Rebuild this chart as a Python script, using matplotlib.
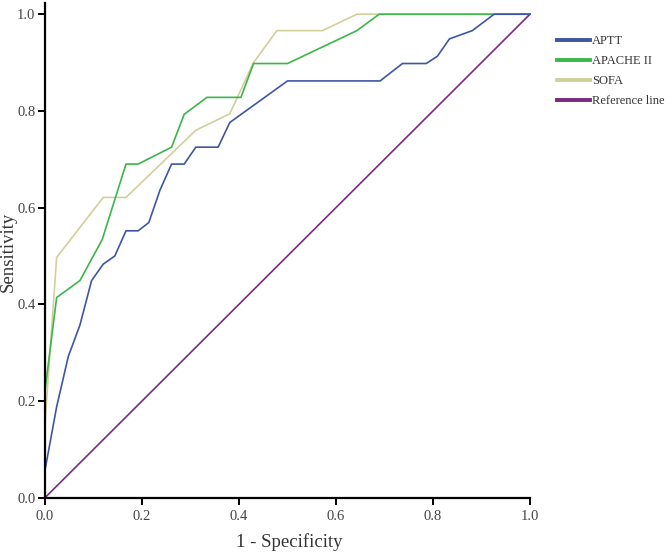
import matplotlib
matplotlib.use("Agg")
import matplotlib.pyplot as plt
from matplotlib.lines import Line2D

# ROC data
aptt_x = [0, 0, 0.024, 0.048, 0.072, 0.096, 0.12, 0.144, 0.167, 0.192, 0.214, 0.237, 0.261, 0.287,
          0.311, 0.357, 0.381, 0.5, 0.691, 0.737, 0.786, 0.809, 0.834, 0.881, 0.926, 1.0]
aptt_y = [0, 0.057, 0.188, 0.292, 0.357, 0.449, 0.483, 0.5, 0.552, 0.552, 0.569, 0.636, 0.69, 0.69,
          0.725, 0.725, 0.776, 0.862, 0.862, 0.898, 0.898, 0.913, 0.949, 0.966, 1.0, 1.0]

apache_x = [0, 0, 0.024, 0.072, 0.118, 0.167, 0.192, 0.261, 0.287, 0.334, 0.404, 0.43, 0.5, 0.643, 0.689, 1.0]
apache_y = [0, 0.222, 0.414, 0.449, 0.534, 0.69, 0.69, 0.725, 0.793, 0.828, 0.828, 0.898, 0.898, 0.966, 1.0, 1.0]

sofa_x = [0, 0, 0.024, 0.12, 0.167, 0.311, 0.381, 0.43, 0.478, 0.572, 0.643, 1.0]
sofa_y = [0, 0.154, 0.497, 0.621, 0.621, 0.76, 0.794, 0.9, 0.966, 0.966, 1.0, 1.0]

ref_x = [0, 1]
ref_y = [0, 1]

labels = ["APTT", "APACHE II", "SOFA", "Reference line"]
colors = ["#3D56A6", "#3CB54A", "#D3CF9B", "#7B2A82"]
ticks = [0.0, 0.2, 0.4, 0.6, 0.8, 1.0]
tick_labels = ["0.0", "0.2", "0.4", "0.6", "0.8", "1.0"]

plt.rcParams['font.family'] = ['Liberation Serif', 'DejaVu Serif']

fig = plt.figure(figsize=(6.68, 5.53), dpi=100)
ax = fig.add_axes([45/668, 0.1, 485/668, 494.7/553])

series = [(aptt_x, aptt_y), (apache_x, apache_y), (sofa_x, sofa_y), (ref_x, ref_y)]
order = [3, 2, 1, 0]
for i in order:
    xs, ys = series[i]
    ax.plot(xs, ys, color=colors[i], lw=1.2, solid_joinstyle='miter', clip_on=False, zorder=2 + (3 - i))

ax.set_xlim(0, 1)
ax.set_ylim(0, 494.7/483.5)
ax.set_xticks(ticks)
ax.set_xticklabels(tick_labels)
ax.set_yticks(ticks)
ax.set_yticklabels(tick_labels)
for s in ['top', 'right']:
    ax.spines[s].set_visible(False)
for s in ['left', 'bottom']:
    ax.spines[s].set_linewidth(1.6)
    ax.spines[s].set_color('black')
    ax.spines[s].set_zorder(10)
ax.tick_params(direction='out', length=5, width=1.4, colors='black', labelcolor='#444444', labelsize=10.5, pad=2)
ax.tick_params(axis='x', pad=4)

fig.text(289/668, 1 - 542/553, "1 - Specificity", fontsize=13.5, color='#333333', ha='center', va='center')
fig.text(8/668, 1 - 252/553, "Sensitivity", fontsize=13.5, color='#333333', ha='center', va='center',
         rotation=90)

handles = [Line2D([0], [0], color=c, lw=2.8) for c in colors]
leg = fig.legend(handles, labels, loc='upper left', bbox_to_anchor=(552/668, 1 - 30/553),
                 frameon=False, fontsize=9, handlelength=2.6, handletextpad=0.2,
                 labelspacing=0.65, borderaxespad=0)
for t in leg.get_texts():
    t.set_color('#333333')

fig.savefig("out.png", dpi=100)
